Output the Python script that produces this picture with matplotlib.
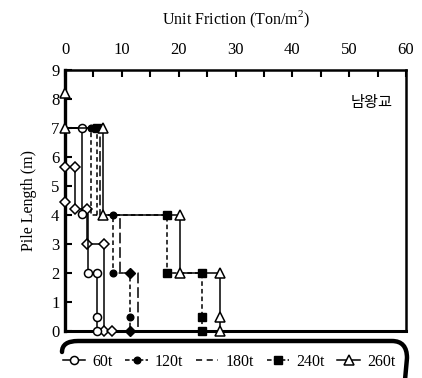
import matplotlib
matplotlib.use("Agg")
import matplotlib.pyplot as plt
from matplotlib.path import Path
from matplotlib.patches import PathPatch
from matplotlib.lines import Line2D

plt.rcParams['font.family'] = ['Liberation Serif', 'DejaVu Serif']
plt.rcParams['mathtext.fontset'] = 'custom'
plt.rcParams['mathtext.rm'] = 'Liberation Serif'

# Unit friction (Ton/m^2) against pile length (m) for each load step
x_60 = [0, 3.0, 3.0, 4.0, 4.0, 5.6, 5.6, 5.6]
d_60 = [7, 7, 4.05, 4.05, 2, 2, 0.5, 0]
mk_60 = [1, 2, 4, 5, 6, 7]

x_60b = [0, 1.8, 1.8, 3.9, 3.9, 6.9, 6.9]
d_60b = [5.66, 5.66, 4.2, 4.2, 3, 3, 0]
x_60b_pts = [0, 8.3]
d_60b_pts = [4.45, 0]

x_120 = [0, 4.6, 4.6, 8.5, 8.5, 11.4, 11.4, 11.4]
d_120 = [7, 7, 4, 4, 2, 2, 0.5, 0]
mk_120_circle = [1, 3, 4, 6]
mk_120_diamond = [5, 7]

x_180 = [0, 6.1, 6.1, 9.7, 9.7, 12.9, 12.9]
d_180 = [7, 7, 4, 4, 2, 2, 0]

x_240 = [0, 5.7, 5.7, 17.9, 17.9, 24.1, 24.1, 24.1]
d_240 = [7, 7, 4, 4, 2, 2, 0.5, 0]
mk_240 = [1, 3, 4, 5, 6, 7]

x_260 = [0, 0, 6.6, 6.6, 20.2, 20.2, 27.3, 27.3, 27.3]
d_260 = [8.2, 7, 7, 4, 4, 2, 2, 0.5, 0]

labels = ['60t', '120t', '180t', '240t', '260t']
x_ticks = [0, 10, 20, 30, 40, 50, 60]
y_ticks = list(range(0, 10))

W, H = 422, 378
fig = plt.figure(figsize=(W / 100, H / 100), dpi=100)
ax = fig.add_axes([65 / W, 1 - 331 / H, 341 / W, 261 / H])

lw = 1.1
ms = 5.8
open_kw = dict(markerfacecolor='white', markeredgecolor='black', markeredgewidth=1.1)
filled_kw = dict(markerfacecolor='black', markeredgecolor='black')

ax.plot(x_60b, d_60b, '-', color='black', lw=lw, marker='D', ms=5.2, **open_kw,
        clip_on=False, zorder=3)
ax.plot(x_60b_pts, d_60b_pts, linestyle='none', marker='D', ms=5.2, **open_kw,
        clip_on=False, zorder=3)
ax.plot(x_60, d_60, '-', color='black', lw=lw, marker='o', ms=ms, markevery=mk_60,
        **open_kw, clip_on=False, zorder=4)
ax.plot(x_180, d_180, color='black', lw=lw, dashes=(7, 2.5), clip_on=False, zorder=2)
ax.plot(x_120, d_120, color='black', lw=lw, dashes=(3, 2), marker='o', ms=4.8,
        markevery=mk_120_circle, **filled_kw, clip_on=False, zorder=3)
ax.plot([x_120[i] for i in mk_120_diamond], [d_120[i] for i in mk_120_diamond],
        linestyle='none', marker='D', ms=4.8, **filled_kw, clip_on=False, zorder=3)
ax.plot(x_240, d_240, color='black', lw=lw, dashes=(3, 2), marker='s', ms=5.2,
        markevery=mk_240, **filled_kw, clip_on=False, zorder=3)
ax.plot(x_260, d_260, '-', color='black', lw=lw, marker='^', ms=7, **open_kw,
        clip_on=False, zorder=5)

ax.set_xlim(0, 60)
ax.set_ylim(0, 9)
ax.set_xticks(x_ticks)
ax.set_xticks(range(0, 61, 5), minor=True)
ax.set_yticks(y_ticks)

ax.xaxis.tick_top()
ax.xaxis.set_label_position('top')
ax.tick_params(axis='x', which='both', direction='in', length=5, width=1.5,
               top=True, bottom=False, labelsize=12, pad=9)
ax.tick_params(axis='x', which='minor', labeltop=False)
ax.tick_params(axis='y', direction='in', length=5, width=1.5, left=True, right=False,
               labelsize=12, pad=4)

for side, w in [('left', 2.4), ('top', 1.8), ('right', 1.8), ('bottom', 2.2)]:
    ax.spines[side].set_linewidth(w)

ax.set_xlabel('Unit Friction (Ton/m$^2$)', fontsize=11.5, labelpad=12)
ax.set_ylabel('Pile Length (m)', fontsize=11.5, labelpad=10)

ax.text(0.962, 0.874, '남왕교', transform=ax.transAxes, ha='right', va='center',
        fontsize=11, family=['Noto Sans CJK KR', 'DejaVu Sans'])

# Legend along the bottom
handles = [
    Line2D([], [], color='black', lw=lw, marker='o', ms=ms, **open_kw),
    Line2D([], [], color='black', lw=lw, dashes=(3, 1.5), marker='o', ms=4.8, **filled_kw),
    Line2D([], [], color='black', lw=lw, dashes=(4, 3)),
    Line2D([], [], color='black', lw=lw, dashes=(3, 1.5), marker='s', ms=5.2, **filled_kw),
    Line2D([], [], color='black', lw=lw, marker='^', ms=6.5, **open_kw),
]
fig.legend(handles, labels, loc='center', bbox_to_anchor=(229 / W, 1 - 362 / H),
           ncol=5, frameon=False, fontsize=11.5, handlelength=1.4, handletextpad=0.45,
           columnspacing=0.8, borderaxespad=0)

# Rounded bracket framing the legend
def fx(px):
    return px / W

def fy(py):
    return 1 - py / H

verts = [(fx(62), fy(352)), (fx(62), fy(341)), (fx(78), fy(341)),
         (fx(392), fy(341)),
         (fx(407), fy(341)), (fx(407), fy(358)),
         (fx(405), fy(380))]
codes = [Path.MOVETO, Path.CURVE3, Path.CURVE3, Path.LINETO,
         Path.CURVE3, Path.CURVE3, Path.LINETO]
fig.patches.append(PathPatch(Path(verts, codes), transform=fig.transFigure,
                             facecolor='none', edgecolor='black', lw=3.2,
                             capstyle='round'))

fig.savefig('out.png', dpi=100)
